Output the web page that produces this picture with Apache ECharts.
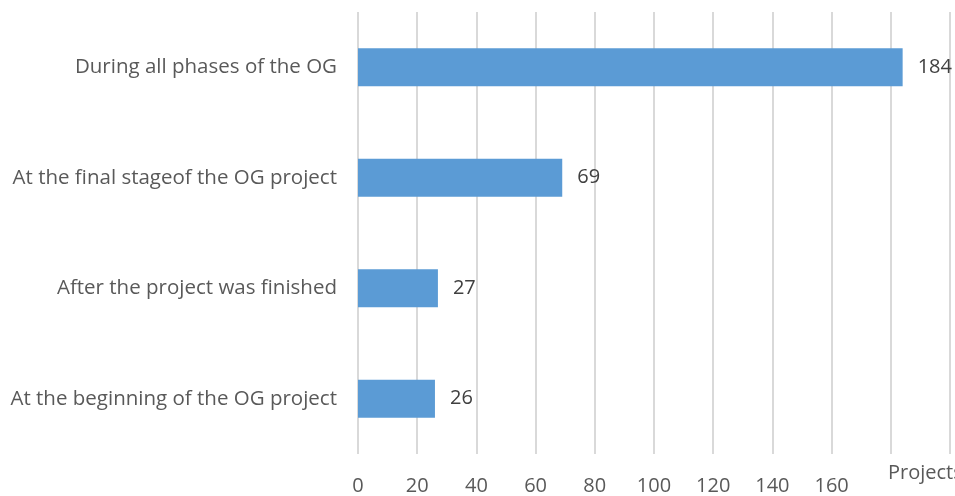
<!DOCTYPE html>
<html>
<head>
<meta charset="utf-8">
<script src="https://cdn.jsdelivr.net/npm/echarts@6/dist/echarts.min.js"></script>
<style>
  html, body { margin: 0; padding: 0; background: #fff; }
  #chart { width: 955px; height: 496px; }
</style>
</head>
<body>
<div id="chart"></div>
<script>
// categories bottom to top, as echarts draws a category y axis
const categories = [
  'At the beginning of the OG project',
  'After the project was finished',
  'At the final stageof the OG project',
  'During all phases of the OG'
]
const projects = [26, 27, 69, 184]
const hiddenTicks = [180, 200] // covered by the axis title in the original

const chart = echarts.init(document.getElementById('chart'))
const option = {
  animation: false,
  textStyle: { fontFamily: 'Open Sans' },
  grid: {
    left: 358,
    right: 5,
    top: 12,
    bottom: 38
  },
  xAxis: {
    type: 'value',
    min: 0,
    max: 200,
    interval: 20,
    axisLine: { show: false },
    axisTick: { show: false },
    splitLine: { lineStyle: { color: '#d9d9d9', width: 2 } },
    axisLabel: {
      color: '#595959',
      fontSize: 20,
      margin: 22,
      formatter: v => (hiddenTicks.includes(v) ? '' : v)
    }
  },
  yAxis: {
    type: 'category',
    data: categories,
    axisLine: { show: false },
    axisTick: { show: false },
    axisLabel: { color: '#595959', fontSize: 20.5, margin: 21 }
  },
  series: [
    {
      type: 'bar',
      data: projects,
      barWidth: 38,
      itemStyle: { color: '#5b9bd5' },
      label: {
        show: true,
        position: 'right',
        distance: 15,
        color: '#404040',
        fontSize: 20
      }
    }
  ],
  graphic: [
    {
      type: 'text',
      left: 888,
      top: 463,
      style: { text: 'Projects', fill: '#595959', fontSize: 20, fontFamily: 'Open Sans' }
    }
  ]
}
chart.setOption(option)
</script>
</body>
</html>
